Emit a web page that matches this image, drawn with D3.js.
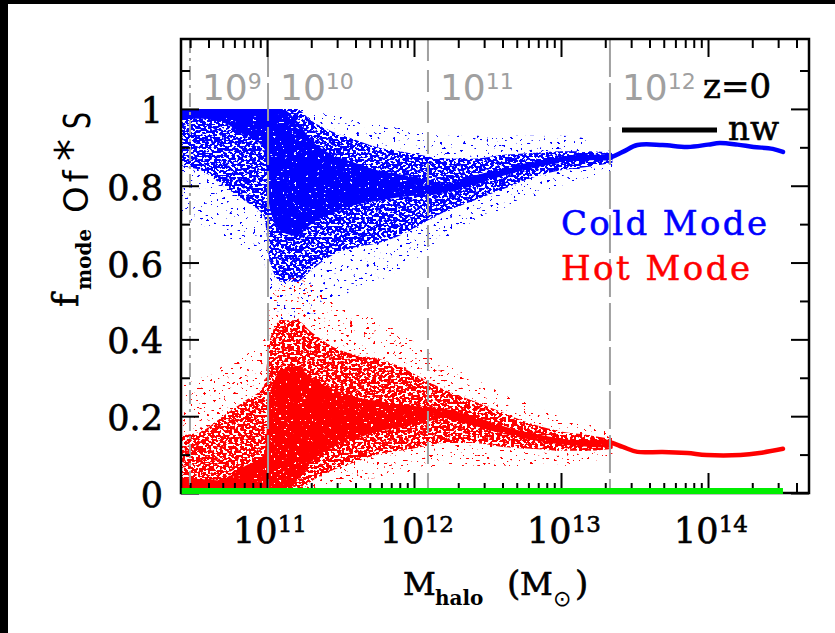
<!DOCTYPE html>
<html>
<head>
<meta charset="utf-8">
<script src="https://cdn.jsdelivr.net/npm/d3@7"></script>
<style>
  html, body { margin: 0; padding: 0; background: #000; }
  svg { display: block; }
</style>
</head>
<body>
<svg id="chart" width="835" height="633"></svg>
<script>
// Halo-mass grid (log10 M_halo / M_sun) for the scatter envelopes
const massGrid = [10.42, 10.55, 10.7, 10.85, 10.98, 11.02, 11.1, 11.2, 11.3, 11.45, 11.6, 11.75, 11.9, 12.05, 12.2, 12.4, 12.6, 12.8, 13.0, 13.2, 13.35];

// Cold-mode fraction: sparse outskirts, dense body, solid core of the halo cloud
const coldSparseHi = [1, 1, 1, 1, 1, 1, 1, 1, 1, 1, 0.97, 0.96, 0.95, 0.94, 0.93, 0.93, 0.93, 0.93, 0.93, 0.92, 0.9];
const coldSparseLo = [0.72, 0.7, 0.67, 0.64, 0.6, 0.5, 0.45, 0.44, 0.46, 0.5, 0.53, 0.55, 0.58, 0.62, 0.66, 0.7, 0.74, 0.77, 0.8, 0.82, 0.84];
const coldDenseHi  = [1, 1, 1, 1, 1, 1, 1, 1, 0.97, 0.94, 0.92, 0.9, 0.89, 0.88, 0.87, 0.87, 0.88, 0.885, 0.89, 0.89, 0.885];
const coldDenseLo  = [0.85, 0.84, 0.8, 0.76, 0.72, 0.6, 0.55, 0.55, 0.58, 0.62, 0.64, 0.65, 0.67, 0.7, 0.73, 0.76, 0.79, 0.82, 0.84, 0.85, 0.86];
const coldSolidHi  = [1, 1, 1, 1, 1, 1, 1, 0.97, 0.92, 0.88, 0.86, 0.84, 0.83, 0.82, 0.805, 0.825, 0.845, 0.862, 0.874, 0.88, 0.883];
const coldSolidLo  = [0.975, 0.975, 0.965, 0.93, 0.9, 0.74, 0.68, 0.67, 0.7, 0.73, 0.75, 0.76, 0.77, 0.775, 0.78, 0.8, 0.825, 0.845, 0.86, 0.866, 0.868];

// Hot-mode fraction envelopes
const hotSparseLo = [0, 0, 0, 0, 0, 0, 0, 0, 0, 0, 0.03, 0.04, 0.05, 0.06, 0.07, 0.07, 0.07, 0.07, 0.07, 0.08, 0.1];
const hotSparseHi = [0.28, 0.3, 0.33, 0.36, 0.4, 0.5, 0.55, 0.56, 0.54, 0.5, 0.47, 0.45, 0.42, 0.38, 0.34, 0.3, 0.26, 0.23, 0.2, 0.18, 0.16];
const hotDenseLo  = [0, 0, 0, 0, 0, 0, 0, 0, 0.03, 0.06, 0.08, 0.1, 0.11, 0.12, 0.13, 0.13, 0.12, 0.115, 0.11, 0.11, 0.115];
const hotDenseHi  = [0.15, 0.16, 0.2, 0.24, 0.28, 0.4, 0.45, 0.45, 0.42, 0.38, 0.36, 0.35, 0.33, 0.3, 0.27, 0.24, 0.21, 0.18, 0.16, 0.15, 0.14];
const hotSolidLo  = [0, 0, 0, 0, 0, 0, 0, 0.03, 0.08, 0.12, 0.14, 0.16, 0.17, 0.18, 0.195, 0.175, 0.155, 0.138, 0.126, 0.12, 0.117];
const hotSolidHi  = [0.025, 0.025, 0.035, 0.07, 0.1, 0.26, 0.32, 0.33, 0.3, 0.27, 0.25, 0.24, 0.23, 0.225, 0.22, 0.2, 0.175, 0.155, 0.14, 0.134, 0.132];

// Low-mass halos piled up at pure cold (f = 1) and pure hot (f = 0)
const pileMass   = [10.42, 10.6, 10.75, 10.9, 11.0, 11.1];
const coldPileLo = [0.975, 0.975, 0.977, 0.98, 0.985, 0.995];
const hotPileHi  = [0.04, 0.035, 0.03, 0.025, 0.02, 0.01];

// Massive-halo sequences, where the points merge into a track
const coldTrackMass = [12.1, 12.3, 12.45, 12.6, 12.79, 12.9, 13.13, 13.32, 13.42, 13.52, 13.69, 13.86, 14.0, 14.08, 14.2, 14.31, 14.44, 14.51];
const coldTrack     = [0.78, 0.8, 0.82, 0.835, 0.852, 0.862, 0.875, 0.872, 0.888, 0.906, 0.906, 0.901, 0.907, 0.911, 0.907, 0.901, 0.896, 0.888];
const hotTrackMass  = [12.1, 12.3, 12.45, 12.6, 12.79, 12.96, 13.13, 13.32, 13.42, 13.52, 13.69, 13.86, 13.99, 14.22, 14.35, 14.51];
const hotTrack      = [0.215, 0.195, 0.177, 0.165, 0.151, 0.138, 0.13, 0.133, 0.12, 0.107, 0.107, 0.104, 0.099, 0.099, 0.104, 0.115];
const windTrackMass = [10.42, 14.51];
const windTrack     = [0, 0];

// Halo masses matching stellar masses of 10^9 ... 10^12 M_sun
const stellarMarkMass = [10.476, 11.007, 12.095, 13.333];
const stellarMarkExp  = ["9", "10", "11", "12"];

// Axis ticks
const xMajorExp = [11, 12, 13, 14];
const yMajor = [0, 0.2, 0.4, 0.6, 0.8, 1];
const yMinor = [0.1, 0.3, 0.5, 0.7, 0.9, 1.1];
const yTickLabels = ["0", "0.2", "0.4", "0.6", "0.8", "1"];

const svg = d3.select("#chart");
const W = 835, H = 633;
const plot = { left: 181, right: 809, top: 39, bottom: 493 };

// black surround with the white page
svg.append("rect").attr("width", W).attr("height", H).attr("fill", "#000");
svg.append("rect").attr("x", 8).attr("y", 4).attr("width", W - 8).attr("height", H - 4).attr("fill", "#fff");

const x = d3.scaleLog().domain([Math.pow(10, 10.415), Math.pow(10, 14.687)]).range([plot.left, plot.right]);
const y = d3.scaleLinear().domain([0, 1.182]).range([plot.bottom, plot.top]);
const xm = m => x(Math.pow(10, m));

const defs = svg.append("defs");
defs.append("clipPath").attr("id", "plotClip").append("rect")
  .attr("x", plot.left).attr("y", plot.top)
  .attr("width", plot.right - plot.left).attr("height", plot.bottom - plot.top);

// speckle filters: threshold a noise field so a filled band reads as scattered points
function speckle(id, seed, cut, freq) {
  const f = defs.append("filter").attr("id", id)
    .attr("filterUnits", "userSpaceOnUse")
    .attr("x", plot.left).attr("y", plot.top)
    .attr("width", plot.right - plot.left).attr("height", plot.bottom - plot.top)
    .attr("color-interpolation-filters", "sRGB");
  f.append("feTurbulence").attr("type", "fractalNoise").attr("baseFrequency", freq)
    .attr("numOctaves", 1).attr("seed", seed).attr("result", "noise");
  const k = 40;
  f.append("feColorMatrix").attr("in", "noise").attr("type", "matrix")
    .attr("values", `0 0 0 0 0  0 0 0 0 0  0 0 0 0 0  ${k} 0 0 0 ${-k * cut}`)
    .attr("result", "mask");
  f.append("feComposite").attr("in", "SourceGraphic").attr("in2", "mask").attr("operator", "in");
}
speckle("sparseBlue", 3, 0.67, "0.3 0.4");
speckle("denseBlue", 7, 0.45, "0.34 0.45");
speckle("solidBlue", 23, 0.32, "0.34 0.45");
speckle("sparseRed", 11, 0.67, "0.3 0.4");
speckle("denseRed", 17, 0.45, "0.34 0.45");
speckle("solidRed", 29, 0.32, "0.34 0.45");

const BLUE = "#0000ff", RED = "#ff0000", GREEN = "#00ee00", GRAY = "#a0a0a0";

const band = (lo, hi) => d3.area()
  .x((d, i) => xm(massGrid[i]))
  .y0((d, i) => y(lo[i]))
  .y1((d, i) => y(hi[i]))
  .curve(d3.curveMonotoneX)(massGrid);
const pile = (lo, hi) => d3.area()
  .x((d, i) => xm(pileMass[i]))
  .y0((d, i) => y(lo[i]))
  .y1((d, i) => y(hi[i]))
  .curve(d3.curveMonotoneX)(pileMass);

const clouds = svg.append("g").attr("clip-path", "url(#plotClip)");
const gCold = clouds.append("g");
gCold.append("path").attr("d", band(coldSparseLo, coldSparseHi)).attr("fill", BLUE).attr("filter", "url(#sparseBlue)");
gCold.append("path").attr("d", band(coldDenseLo, coldDenseHi)).attr("fill", BLUE).attr("filter", "url(#denseBlue)");
gCold.append("path").attr("d", band(coldSolidLo, coldSolidHi)).attr("fill", BLUE).attr("filter", "url(#solidBlue)");
gCold.append("path").attr("d", pile(coldPileLo, pileMass.map(() => 1))).attr("fill", BLUE);
const gHot = clouds.append("g");
gHot.append("path").attr("d", band(hotSparseLo, hotSparseHi)).attr("fill", RED).attr("filter", "url(#sparseRed)");
gHot.append("path").attr("d", band(hotDenseLo, hotDenseHi)).attr("fill", RED).attr("filter", "url(#denseRed)");
gHot.append("path").attr("d", band(hotSolidLo, hotSolidHi)).attr("fill", RED).attr("filter", "url(#solidRed)");
gHot.append("path").attr("d", pile(pileMass.map(() => 0), hotPileHi)).attr("fill", RED);

const track = (ms, vs) => d3.line()
  .x((d, i) => xm(ms[i])).y((d, i) => y(vs[i]))
  .curve(d3.curveCatmullRom)(ms);
clouds.append("path").attr("d", track(coldTrackMass, coldTrack))
  .attr("fill", "none").attr("stroke", BLUE).attr("stroke-width", 4.5).attr("stroke-linecap", "round");
clouds.append("path").attr("d", track(hotTrackMass, hotTrack))
  .attr("fill", "none").attr("stroke", RED).attr("stroke-width", 4.5).attr("stroke-linecap", "round");

// stellar-mass reference lines
const dashes = ["14,5,3,5", "38,6", "22,9", "38,6"];
svg.append("g").selectAll("line").data(stellarMarkMass).join("line")
  .attr("x1", d => xm(d)).attr("x2", d => xm(d))
  .attr("y1", plot.top).attr("y2", plot.bottom)
  .attr("stroke", GRAY).attr("stroke-width", 2)
  .attr("stroke-dasharray", (d, i) => dashes[i]);

svg.append("g").selectAll("text").data(stellarMarkMass).join("text")
  .attr("x", d => xm(d) + 12).attr("y", 100)
  .attr("font-family", "DejaVu Sans").attr("font-size", 36).attr("fill", GRAY)
  .each(function (d, i) {
    const t = d3.select(this);
    t.append("tspan").text("10");
    t.append("tspan").attr("dy", -11).attr("font-size", 22).text(stellarMarkExp[i]);
  });

// axes: ticks pointing inward on all four sides
const xMinor = [];
for (let e = 10; e <= 14; e++) for (let k = 2; k <= 9; k++) {
  const v = k * Math.pow(10, e);
  if (v > x.domain()[0] && v < x.domain()[1]) xMinor.push(v);
}
const xMajor = xMajorExp.map(e => Math.pow(10, e));

function axisGroup(axis) {
  const g = svg.append("g").call(axis);
  g.select(".domain").remove();
  g.selectAll(".tick line").attr("stroke", "#000").attr("stroke-width", 2);
  g.selectAll(".tick text").remove();
  return g;
}
axisGroup(d3.axisBottom(x).tickValues(xMajor).tickSize(-20).tickFormat(""))
  .attr("transform", `translate(0,${plot.bottom})`);
axisGroup(d3.axisBottom(x).tickValues(xMinor).tickSize(-10).tickFormat(""))
  .attr("transform", `translate(0,${plot.bottom})`);
axisGroup(d3.axisTop(x).tickValues(xMajor).tickSize(-18).tickFormat(""))
  .attr("transform", `translate(0,${plot.top})`);
axisGroup(d3.axisTop(x).tickValues(xMinor).tickSize(-9).tickFormat(""))
  .attr("transform", `translate(0,${plot.top})`);
axisGroup(d3.axisLeft(y).tickValues(yMajor).tickSize(-18).tickFormat(""))
  .attr("transform", `translate(${plot.left},0)`);
axisGroup(d3.axisLeft(y).tickValues(yMinor).tickSize(-9).tickFormat(""))
  .attr("transform", `translate(${plot.left},0)`);
axisGroup(d3.axisRight(y).tickValues(yMajor).tickSize(-18).tickFormat(""))
  .attr("transform", `translate(${plot.right},0)`);
axisGroup(d3.axisRight(y).tickValues(yMinor).tickSize(-9).tickFormat(""))
  .attr("transform", `translate(${plot.right},0)`);

svg.append("rect")
  .attr("x", plot.left).attr("y", plot.top)
  .attr("width", plot.right - plot.left).attr("height", plot.bottom - plot.top)
  .attr("fill", "none").attr("stroke", "#000").attr("stroke-width", 2.5);

// zero line of the third accretion channel, drawn over the bottom frame
svg.append("path").attr("d", track(windTrackMass, windTrack))
  .attr("fill", "none").attr("stroke", GREEN).attr("stroke-width", 6)
  .attr("transform", "translate(0,-2)");

// tick labels
const ink = sel => sel.attr("fill", "#000").attr("stroke", "#000").attr("stroke-width", 0.6);
svg.append("g").selectAll("text").data(yMajor).join("text")
  .attr("x", 163).attr("y", d => y(d) + 14)
  .attr("text-anchor", "end")
  .attr("font-family", "DejaVu Serif").attr("font-size", 35)
  .call(ink)
  .text((d, i) => yTickLabels[i]);

svg.append("g").selectAll("text").data(xMajorExp).join("text")
  .attr("x", d => xm(d) + 3).attr("y", 543)
  .attr("text-anchor", "middle")
  .attr("font-family", "DejaVu Serif").attr("font-size", 35)
  .call(ink)
  .each(function (d) {
    const t = d3.select(this);
    t.append("tspan").text("10");
    t.append("tspan").attr("dy", -11).attr("font-size", 23).text(String(d));
  });

// axis titles
const serif = "DejaVu Serif";
svg.append("text").attr("x", 403).attr("y", 595).attr("font-family", serif).attr("font-size", 32).call(ink).text("M");
svg.append("text").attr("x", 435).attr("y", 605).attr("font-family", serif).attr("font-weight", "bold").attr("font-size", 20).text("halo");
svg.append("text").attr("x", 507).attr("y", 595).attr("font-family", serif).attr("font-size", 34).call(ink).text("(");
svg.append("text").attr("x", 520).attr("y", 595).attr("font-family", serif).attr("font-size", 32).call(ink).text("M");
svg.append("text").attr("x", 553).attr("y", 606).attr("font-family", "DejaVu Sans").attr("font-size", 22).text("\u2299");
svg.append("text").attr("x", 575).attr("y", 595).attr("font-family", serif).attr("font-size", 34).call(ink).text(")");

const rot = (tx, ty) => `translate(${tx},${ty}) rotate(-90)`;
svg.append("text").attr("transform", rot(78, 307)).attr("font-family", serif).attr("font-size", 36).call(ink).text("f");
svg.append("text").attr("transform", rot(91, 290)).attr("font-family", serif).attr("font-weight", "bold").attr("font-size", 20).text("mode");
svg.append("text").attr("transform", rot(88, 213)).attr("font-family", "DejaVu Sans").attr("font-size", 34).attr("letter-spacing", 4).text("Of");
svg.append("text").attr("transform", rot(87, 161)).attr("font-family", "DejaVu Sans").attr("font-size", 44).text("*");
svg.append("text").attr("transform", rot(90, 129) + " scale(0.72,1)").attr("font-family", "DejaVu Sans").attr("font-size", 37).text("S");

// annotations
svg.append("text").attr("x", 703).attr("y", 98).attr("font-family", serif).attr("font-size", 34).call(ink).text("z=0");
svg.append("line").attr("x1", 622).attr("x2", 717).attr("y1", 130).attr("y2", 130).attr("stroke", "#000").attr("stroke-width", 5);
svg.append("text").attr("x", 728).attr("y", 140).attr("font-family", serif).attr("font-size", 34).call(ink).text("nw");

svg.append("text").attr("x", 561).attr("y", 235).attr("font-family", serif).attr("font-size", 34)
  .attr("textLength", 206).attr("lengthAdjust", "spacing")
  .attr("fill", BLUE).attr("stroke", BLUE).attr("stroke-width", 0.5).text("Cold Mode");
svg.append("text").attr("x", 561).attr("y", 280).attr("font-family", serif).attr("font-size", 34)
  .attr("textLength", 189).attr("lengthAdjust", "spacing")
  .attr("fill", RED).attr("stroke", RED).attr("stroke-width", 0.5).text("Hot Mode");
</script>
</body>
</html>
